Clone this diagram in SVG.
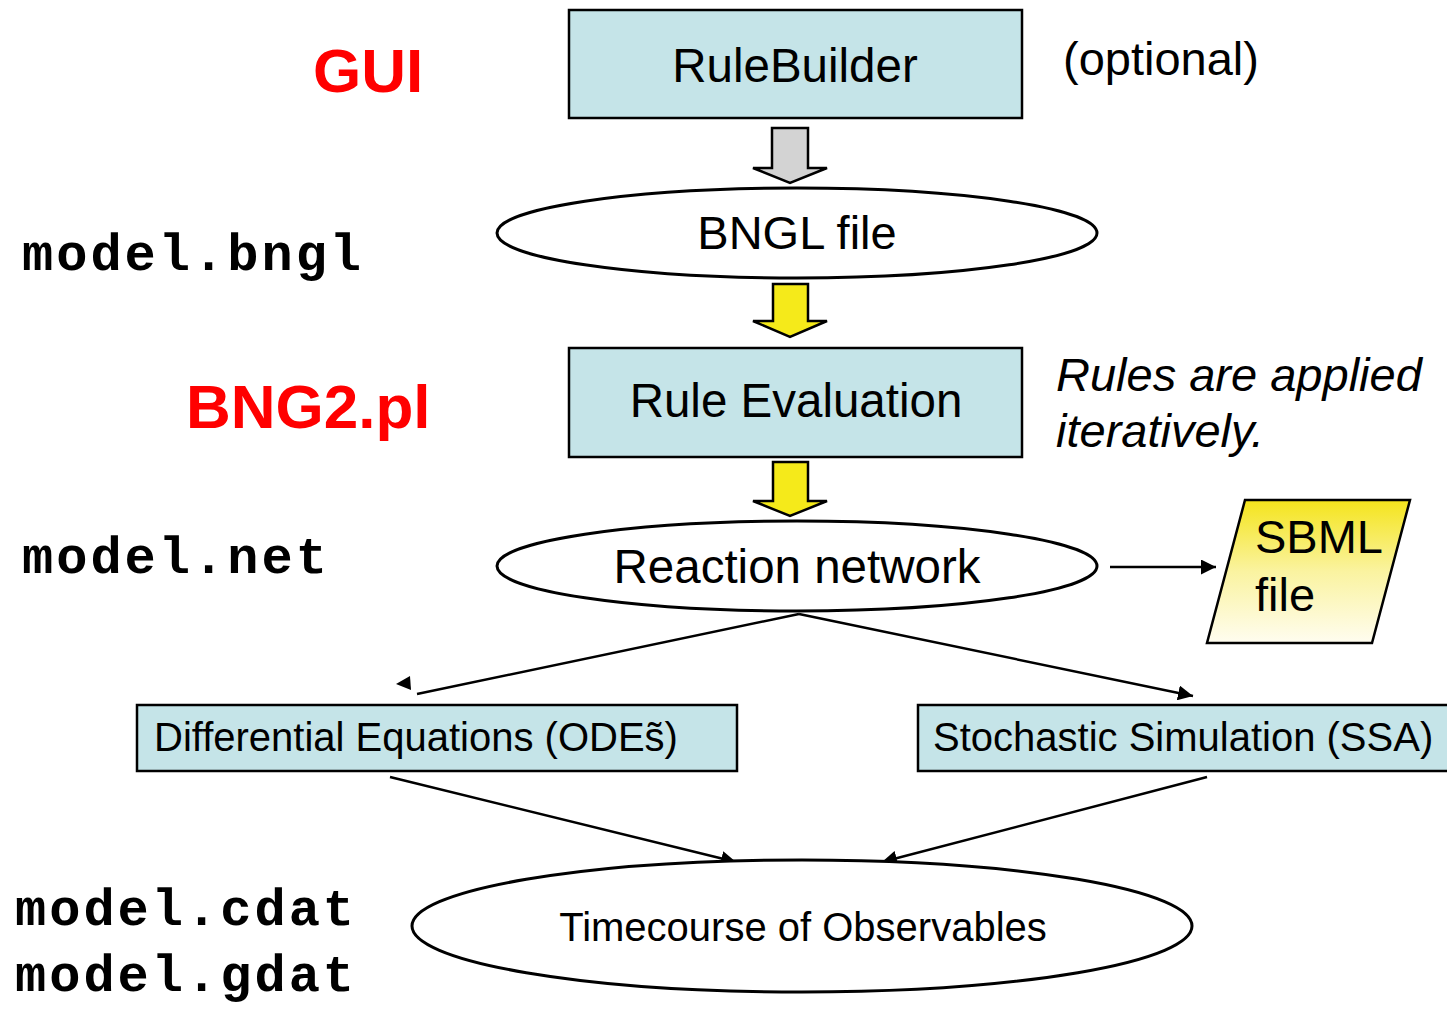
<svg xmlns="http://www.w3.org/2000/svg" width="1447" height="1009" viewBox="0 0 1447 1009">
<defs>
<style>
.box{fill:#c5e4e8;stroke:#000;stroke-width:2.5}
.ell{fill:#fff;stroke:#000;stroke-width:3}
.t{font-family:"Liberation Sans",Arial,sans-serif;fill:#000}
.red{font-family:"Liberation Sans",Arial,sans-serif;font-weight:bold;fill:#ff0000}
.mono{font-family:"Liberation Mono","Courier New",monospace;font-weight:bold;font-size:52px;letter-spacing:3px;fill:#000}
.ln{stroke:#000;stroke-width:2.5;fill:none}
.blk{stroke:#000;stroke-width:2.5;stroke-linejoin:miter}
</style>
<marker id="ah" viewBox="0 0 10 10" refX="10" refY="5" markerWidth="6" markerHeight="6" markerUnits="strokeWidth" orient="auto">
<path d="M0,0 L10,5 L0,10 Z" fill="#000"/>
</marker>
<linearGradient id="sb" x1="0" y1="0" x2="0" y2="1">
<stop offset="0" stop-color="#f4e41c"/>
<stop offset="0.5" stop-color="#faf3a0"/>
<stop offset="1" stop-color="#fffdf0"/>
</linearGradient>
</defs>
<rect width="1447" height="1009" fill="#fff"/>

<g id="labels">
<text class="red" x="313" y="92" font-size="62">GUI</text>
<text class="red" x="186" y="428" font-size="62">BNG2.pl</text>
<text class="mono" x="22" y="270">model.bngl</text>
<text class="mono" x="22" y="573">model.net</text>
<text class="mono" x="15" y="925">model.cdat</text>
<text class="mono" x="15" y="991">model.gdat</text>
<text class="t" x="1063" y="75" font-size="47">(optional)</text>
<text class="t" x="1056" y="391" font-size="47" font-style="italic">Rules are applied</text>
<text class="t" x="1056" y="447" font-size="47" font-style="italic">iteratively.</text>
</g>

<g id="connectors">
<path class="blk" fill="#d3d3d3" d="M772,128 H808 V168 H827 L790,183 L753,168 H772 Z"/>
<path class="blk" fill="#f5ea1a" d="M773,284 H808 V321 H827 L790,337 L753,321 H773 Z"/>
<path class="blk" fill="#f5ea1a" d="M773,462 H808 V501 H827 L790,516 L753,501 H773 Z"/>
<line class="ln" x1="1110" y1="567" x2="1216" y2="567" marker-end="url(#ah)"/>
<line class="ln" x1="799" y1="614" x2="417" y2="694"/>
<path d="M396,684 L410,676 L411,690 Z" fill="#000"/>
<line class="ln" x1="799" y1="614" x2="1193" y2="696" marker-end="url(#ah)"/>
<line class="ln" x1="390" y1="777" x2="736" y2="862" marker-end="url(#ah)"/>
<line class="ln" x1="1207" y1="777" x2="882" y2="862" marker-end="url(#ah)"/>
</g>

<g id="rulebuilder">
<rect class="box" x="569" y="10" width="453" height="108"/>
<text class="t" x="795" y="82" font-size="47.5" text-anchor="middle">RuleBuilder</text>
</g>

<g id="bngl">
<ellipse class="ell" cx="797" cy="233" rx="300" ry="45"/>
<text class="t" x="797" y="249" font-size="47" text-anchor="middle">BNGL file</text>
</g>

<g id="ruleeval">
<rect class="box" x="569" y="348" width="453" height="109"/>
<text class="t" x="796" y="417" font-size="47.5" text-anchor="middle">Rule Evaluation</text>
</g>

<g id="network">
<ellipse class="ell" cx="797" cy="566" rx="300" ry="45"/>
<text class="t" x="797" y="583" font-size="47.5" text-anchor="middle">Reaction network</text>
</g>

<g id="sbml">
<polygon points="1245,500 1410,500 1372,643 1207,643" fill="url(#sb)" stroke="#000" stroke-width="2.5"/>
<text class="t" x="1255" y="553" font-size="47">SBML</text>
<text class="t" x="1255" y="611" font-size="47">file</text>
</g>

<g id="odes">
<rect class="box" x="137" y="705" width="600" height="66"/>
<text class="t" x="154" y="751" font-size="40">Differential Equations (ODEs̃)</text>
</g>

<g id="ssa">
<rect class="box" x="918" y="705" width="534" height="66"/>
<text class="t" x="933" y="751" font-size="40">Stochastic Simulation (SSA)</text>
</g>

<g id="timecourse">
<ellipse class="ell" cx="802" cy="926" rx="390" ry="66"/>
<text class="t" x="803" y="941" font-size="40" text-anchor="middle">Timecourse of Observables</text>
</g>
</svg>
